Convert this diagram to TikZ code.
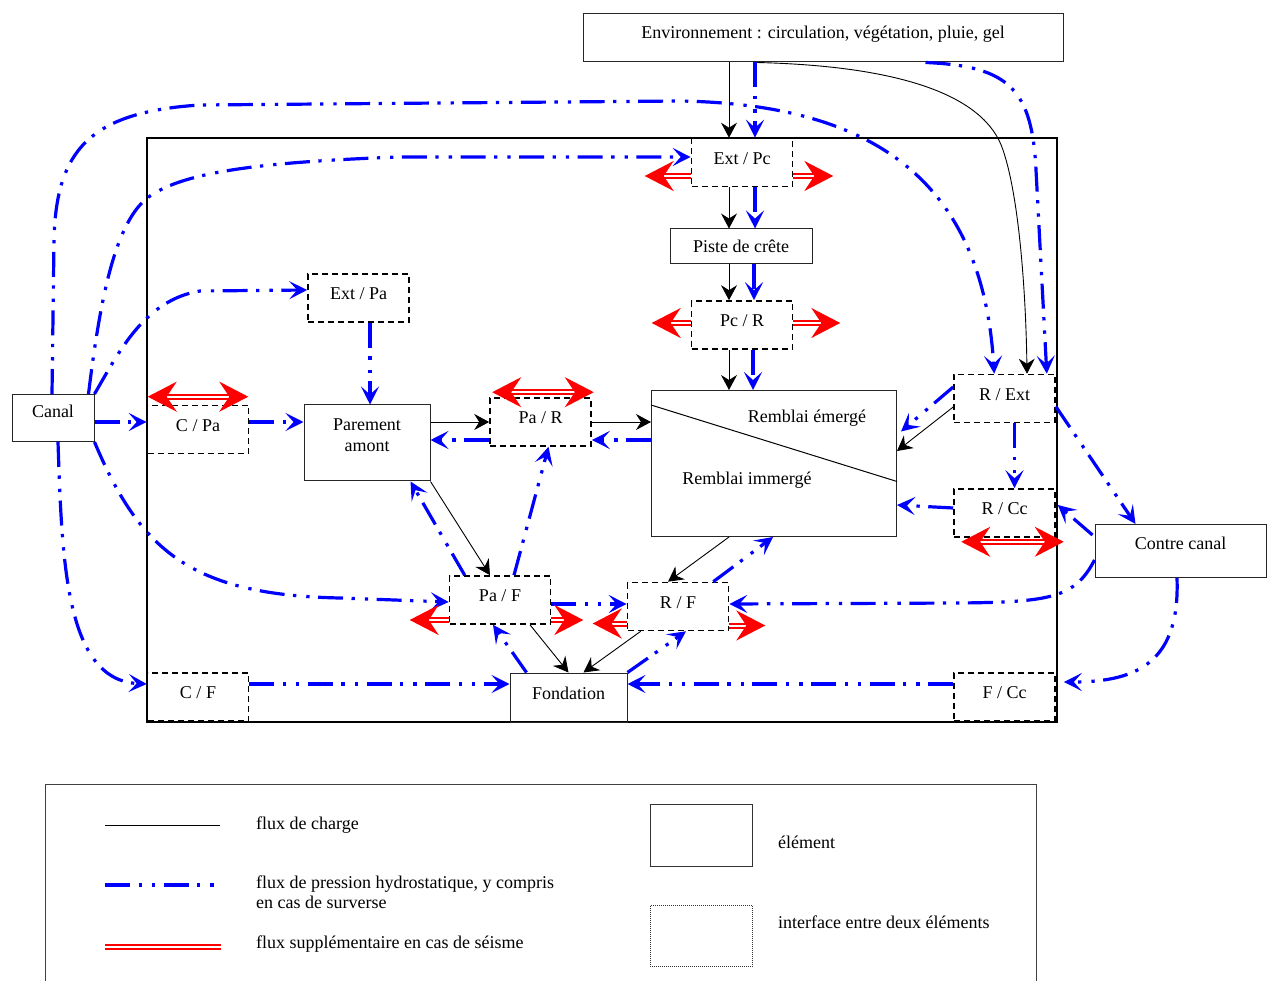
\documentclass[tikz,border=0pt]{standalone}
\usepackage{fontspec}
\setmainfont{Liberation Serif}
\usetikzlibrary{arrows.meta,calc}
\tikzset{
  every node/.style={font=\fontsize{18}{20.7}\selectfont},
  elem/.style={draw=black!85, line width=1pt, inner sep=0pt, text height=13pt},
  iface/.style={draw=black, line width=1.6pt, dash pattern=on 6pt off 4pt, inner sep=0pt,
    minimum width=101pt, minimum height=48pt, text height=13pt, text depth=9.5pt},
  txt/.style={inner sep=0pt},
  hydline/.style={draw=blue, line width=3.2pt,
    dash pattern=on 25pt off 8.5pt on 3.3pt off 10pt on 3.3pt off 8.5pt},
  hyd/.style={hydline, -{Stealth[length=18pt,width=18pt,inset=8pt]}},
  chg/.style={draw=black, line width=0.9pt, -{Stealth[length=15pt,width=16pt,inset=5pt]}},
  seisline/.style={draw=red, double=white, line width=2pt, double distance=2pt},
  seis/.style={seisline, -{Stealth[length=29pt,width=30pt,inset=10pt]}},
  seisboth/.style={seisline, {Stealth[length=29pt,width=30pt,inset=10pt]}-{Stealth[length=29pt,width=30pt,inset=10pt]}},
}
\begin{document}
\begin{tikzpicture}[x=1pt,y=-1pt]
\useasboundingbox (0,0) rectangle (1267,981);

% main frame
\draw[line width=2.5pt] (147,138) rectangle (1057,722);

% nodes
\node[elem, minimum width=480pt, minimum height=48pt, text depth=11pt] (env) at (823,38) {Environnement : circulation, végétation, pluie, gel};
\node[iface] (extpc) at (742,162.5) {Ext / Pc};
\node[elem, minimum width=142pt, minimum height=35pt, text depth=1pt] (piste) at (741,246.5) {Piste de crête};
\node[iface] (pcr) at (742,325) {Pc / R};
\node[elem, minimum width=245pt, minimum height=146pt] (remblai) at (774,463.5) {};
\node[txt, anchor=base] (remE) at ($(remblai.center)+(33,-40.5)$) {Remblai émergé};
\node[txt, anchor=base] (remI) at ($(remblai.center)+(-27,21.5)$) {Remblai immergé};
\node[iface] (extpa) at (358.5,298) {Ext / Pa};
\node[elem, minimum width=82pt, minimum height=47pt, text depth=13pt] (canal) at (53,418) {Canal};
\node[iface] (cpa) at (198,429.5) {C / Pa};
\node[elem, minimum width=126pt, minimum height=76pt, text depth=37.6pt] (parement) at (367,443) {\begin{tabular}[t]{@{}c@{}}Parement\\amont\end{tabular}};
\node[iface] (par) at (540.5,422) {Pa / R};
\node[iface] (rext) at (1004.5,398.5) {R / Ext};
\node[iface] (rcc) at (1004.5,513) {R / Cc};
\node[elem, minimum width=171pt, minimum height=53pt, text depth=16.4pt] (contre) at (1180.5,551) {Contre canal};
\node[iface] (paf) at (500,600) {Pa / F};
\node[iface] (rf) at (678,606.5) {R / F};
\node[elem, minimum width=117pt, minimum height=49pt, text depth=10pt] (fond) at (568.5,697.5) {Fondation};
\node[iface] (cf) at (198,697) {C / F};
\node[iface] (fcc) at (1004.5,697) {F / Cc};

% remblai diagonal
\draw[line width=1pt] ($(remblai.north west)+(0,15)$) -- ($(remblai.east)+(0,18)$);

% vertical column
\draw[chg] ($(env.south)+(-94,0)$) -- ($(extpc.north)+(-13,0)$);
\draw[hyd] ($(env.south)+(-68,0)$) -- ($(extpc.north)+(13,0)$);
\draw[chg] ($(extpc.south)+(-13,0)$) -- ($(piste.north)+(-12,0)$);
\draw[hyd] ($(extpc.south)+(13,0)$) -- ($(piste.north)+(14,0)$);
\draw[chg] ($(piste.south)+(-12,0)$) -- ($(pcr.north)+(-13,0)$);
\draw[hyd] ($(piste.south)+(13,0)$) -- ($(pcr.north)+(12,0)$);
\draw[chg] ($(pcr.south)+(-13,0)$) -- ($(remblai.north)+(-45,0)$);
\draw[hyd] ($(pcr.south)+(11,0)$) -- ($(remblai.north)+(-21,0)$);

% environment to R/Ext
\draw[chg] ($(env.south)+(-66,0)$) .. controls (900,66) and (985,95) .. (1003,150)
  .. controls (1020,200) and (1026,300) .. ($(rext.north)+(22.5,0)$);
\draw[hyd] ($(env.south east)+(-138,0)$) .. controls (1010,66) and (1032,90) .. (1036,170)
  -- ($(rext.north east)+(-9,0)$);

% canal curves
\draw[hyd] ($(canal.north)+(-1,0)$) -- (54,240) .. controls (56,150) and (90,112) .. (200,105)
  -- (680,101) .. controls (860,104) and (982,170) .. ($(rext.north west)+(41,0)$);
\draw[hyd] ($(canal.north east)+(-6,0)$) .. controls (100,300) and (115,220) .. (150,196)
  .. controls (185,172) and (260,162) .. (400,157) -- ($(extpc.west)+(0,-5.5)$);
\draw[hyd] (canal.north east) .. controls (120,350) and (145,300) .. (200,291) -- ($(extpa.west)+(0,-8)$);
\draw[hyd] ($(canal.east)+(0,4)$) -- ($(cpa.west)+(0,-7.5)$);
\draw[hyd] ($(cpa.east)+(0,-7.5)$) -- ($(parement.west)+(0,-21)$);
\draw[hyd] ($(extpa.south)+(11.5,0)$) -- ($(parement.north)+(3,0)$);
\draw[hyd] ($(canal.south)+(5,0)$) .. controls (62,560) and (65,680) .. ($(cf.west)+(0,-13)$);
\draw[hyd] (canal.south east) .. controls (140,550) and (190,595) .. (340,598) -- ($(paf.west)+(0,2)$);

% parement / Pa-R / remblai
\draw[chg] ($(parement.east)+(0,-21)$) -- (par.west);
\draw[hyd] ($(par.west)+(0,18)$) -- ($(parement.east)+(0,-3)$);
\draw[chg] (par.east) -- ($(remblai.west)+(0,-41.5)$);
\draw[hyd] ($(remblai.west)+(0,-23.5)$) -- ($(par.east)+(0,18)$);
\draw[chg] (parement.south east) -- ($(paf.north)+(-10,0)$);
\draw[hyd] ($(paf.north west)+(16,0)$) -- ($(parement.south east)+(-20,0)$);
\draw[hyd] ($(paf.north)+(14,0)$) -- ($(par.south)+(8,0)$);

% bottom
\draw[hyd] ($(paf.east)+(0,4)$) -- ($(rf.west)+(0,-2.5)$);
\draw[chg] ($(paf.south)+(30,0)$) -- (fond.north);
\draw[hyd] ($(fond.north west)+(17,0)$) -- ($(paf.south)+(-7,0)$);
\draw[chg] ($(rf.south west)+(14,0)$) -- ($(fond.north)+(15,0)$);
\draw[hyd] (fond.north east) -- ($(rf.south)+(8,0)$);
\draw[chg] ($(remblai.south)+(-45,0)$) -- ($(rf.north)+(-10,0)$);
\draw[hyd] ($(rf.north east)+(-16,0)$) -- ($(remblai.south)+(-1,0)$);
\draw[hyd] ($(cf.east)+(0,-13)$) -- ($(fond.west)+(0,-13.5)$);
\draw[hyd] ($(fcc.west)+(0,-13)$) -- ($(fond.east)+(0,-13.5)$);

% contre canal
\draw[hyd] ($(contre.south)+(-3.5,0)$) .. controls (1180,660) and (1140,682) .. ($(fcc.east)+(8,-15)$);
\draw[hyd] ($(contre.west)+(0,9)$) .. controls (1075,598) and (1050,602) .. (960,603) -- ($(rf.east)+(0,-2.5)$);
\draw[hyd] ($(contre.north west)+(-2,11)$) -- ($(rcc.east)+(2,-8)$);
\draw[hyd] ($(rext.east)+(0,8)$) -- ($(contre.north west)+(41,0)$);

% R/Ext, R/Cc
\draw[hyd] ($(rext.south)+(10,0)$) -- ($(rcc.north)+(10,0)$);
\draw[hyd] ($(rcc.west)+(0,-5)$) -- ($(remblai.east)+(0,41.5)$);
\draw[hyd] ($(rext.west)+(0,-11.5)$) -- ($(remblai.east)+(4,-32)$);
\draw[chg] ($(rext.west)+(0,8.5)$) -- ($(remblai.east)+(0,-12.5)$);

% seismic arrows
\draw[seis] ($(extpc.west)+(0,13.5)$) -- ++(-46,0);
\draw[seis] ($(extpc.east)+(0,13.5)$) -- ++(40,0);
\draw[seis] ($(pcr.west)+(0,-2)$) -- ++(-39,0);
\draw[seis] ($(pcr.east)+(0,-2)$) -- ++(47,0);
\draw[seisboth] ($(cpa.north west)+(1,-8)$) -- ($(cpa.north east)+(-1,-8)$);
\draw[seisboth] ($(par.north west)+(3,-5)$) -- ($(par.north east)+(2,-5)$);
\draw[seisboth] ($(rcc.south west)+(8,4)$) -- ($(rcc.south east)+(8,4)$);
\draw[seis] ($(paf.west)+(0,20)$) -- ++(-39,0);
\draw[seis] ($(paf.east)+(0,20)$) -- ++(32,0);
\draw[seis] ($(rf.west)+(0,17)$) -- ++(-34,0);
\draw[seis] ($(rf.east)+(0,19)$) -- ++(36,0);

% legend
\draw[line width=1pt, black!75] (45,995) -- (45,784.5) -- (1036,784.5) -- (1036,995);
\draw[line width=1pt] (105,825) -- (220,825);
\draw[hydline] (105,885) -- (218,885);
\draw[seisline] (105,946.5) -- (221,946.5);
\draw[line width=1pt, black!80] (650,804.5) rectangle (752.5,866);
\draw[line width=1pt, black!80, dash pattern=on 1pt off 1pt] (650,905.5) rectangle (752.5,966);
\node[txt, anchor=base west] (l1) at (256,829) {flux de charge};
\node[txt, anchor=base west] (l2) at (256,888) {\begin{tabular}[t]{@{}l@{}}flux de pression hydrostatique, y compris\\en cas de surverse\end{tabular}};
\node[txt, anchor=base west] (l3) at (256,948) {flux supplémentaire en cas de séisme};
\node[txt, anchor=base west] (l4) at (778,848) {élément};
\node[txt, anchor=base west] (l5) at (778,928) {interface entre deux éléments};
\end{tikzpicture}
\end{document}
